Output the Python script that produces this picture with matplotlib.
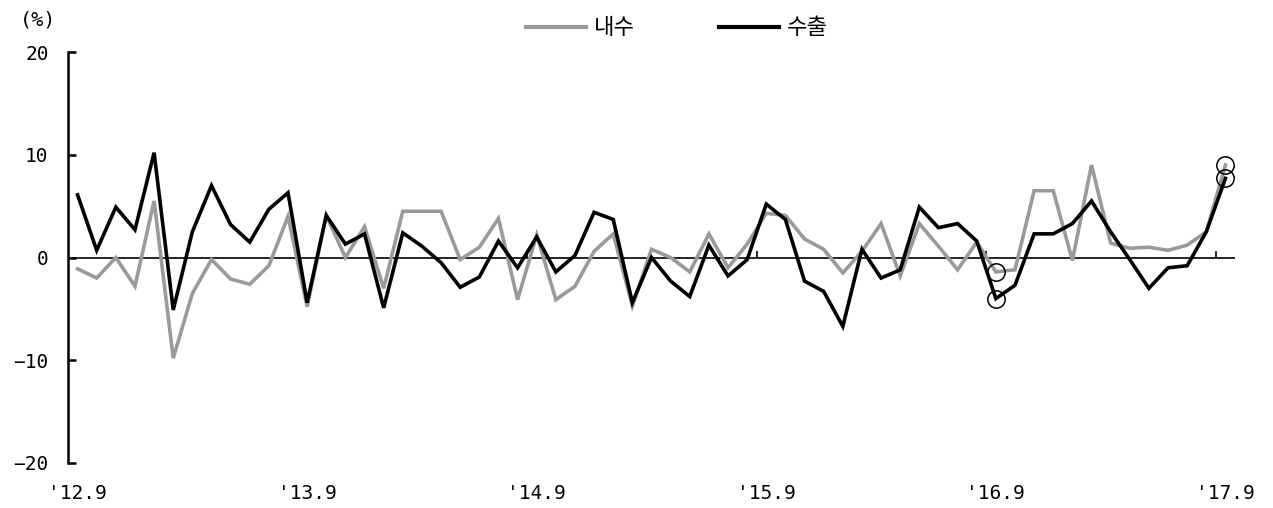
import numpy as np
import matplotlib
matplotlib.use("Agg")
import matplotlib.pyplot as plt

plt.rcParams['font.family'] = ['Noto Sans CJK KR', 'DejaVu Sans']

# ---- data ----
series_names = ["내수", "수출"]
domestic = [-1.1, -2.0, 0.0, -2.8, 5.5, -9.8, -3.5, -0.2, -2.1, -2.6,
            -0.8, 4.0, -4.8, 4.1, 0.0, 3.0, -3.0, 4.5, 4.5, 4.5,
            -0.2, 1.0, 3.8, -4.1, 2.2, -4.1, -2.8, 0.6, 2.3, -4.7,
            0.8, 0.0, -1.4, 2.3, -1.0, 1.3, 4.3, 4.1, 1.8, 0.8,
            -1.5, 0.6, 3.3, -1.8, 3.3, 1.1, -1.2, 1.5, -1.4, -1.2,
            6.5, 6.5, -0.3, 9.0, 1.4, 0.9, 1.0, 0.7, 1.2, 2.5,
            9.0]
export = [6.1, 0.7, 4.9, 2.7, 10.2, -5.1, 2.5, 7.0, 3.2, 1.5,
          4.7, 6.3, -4.4, 4.1, 1.3, 2.3, -4.9, 2.4, 1.1, -0.5,
          -2.9, -1.9, 1.6, -1.0, 2.0, -1.4, 0.2, 4.4, 3.7, -4.4,
          0.0, -2.3, -3.8, 1.2, -1.8, -0.2, 5.2, 3.7, -2.3, -3.3,
          -6.7, 0.8, -2.0, -1.2, 4.9, 2.9, 3.3, 1.6, -4.0, -2.7,
          2.3, 2.3, 3.3, 5.5, 2.5, -0.2, -3.0, -1.0, -0.8, 2.5,
          7.7]
tick_idx = [0, 12, 24, 36, 48, 60]
tick_labels = ["'12.9", "'13.9", "'14.9", "'15.9", "'16.9", "'17.9"]
highlight_idx = [48, 60]
y_ticks = [20, 10, 0, -10, -20]

x = np.arange(len(domestic))

num_font = ['DejaVu Sans Mono', 'DejaVu Sans']

fig = plt.figure(figsize=(12.73, 5.08), dpi=100)
ax = fig.add_axes([68/1273, 45/508, 1167/1273, 411/508])

gray = '#9a9a9a'
ax.plot(x, domestic, color=gray, lw=2.6, label=series_names[0], solid_joinstyle='miter', zorder=3)
ax.plot(x, export, color='black', lw=2.6, label=series_names[1], solid_joinstyle='miter', zorder=4)

# highlight circles
for s in (domestic, export):
    ax.plot(highlight_idx, [s[i] for i in highlight_idx], 'o', mfc='none',
            mec='black', mew=1.1, ms=12.5, zorder=5)

# zero line and category-boundary ticks
ax.axhline(0, color='black', lw=1.2, zorder=2)
bt = [i - 0.5 for i in tick_idx[1:]]
ax.vlines(bt, 0, 0.6, color='black', lw=1.2, zorder=2)

ax.set_xlim(-0.5, len(domestic) - 0.5)
ax.set_ylim(-20, 20)
ax.set_yticks(y_ticks)
ax.set_yticklabels([str(v) if v >= 0 else '\u2212' + str(-v) for v in y_ticks],
                   family=num_font)
ax.set_xticks(tick_idx)
ax.set_xticklabels(tick_labels, family=num_font)

for sp in ('top', 'right', 'bottom'):
    ax.spines[sp].set_visible(False)
ax.spines['left'].set_linewidth(1.8)
ax.tick_params(axis='y', direction='in', length=6, width=1.8, pad=14, labelsize=14)
ax.tick_params(axis='x', length=0, pad=15, labelsize=14)

fig.text(38/1273, 1 - 20/508, '(%)', ha='center', va='center', fontsize=14.5,
         family=num_font)

leg = fig.legend(loc='center', bbox_to_anchor=(677/1273, 1 - 28/508), ncol=2,
                 frameon=False, fontsize=16, handlelength=2.7, handletextpad=0.36,
                 columnspacing=3.8, borderpad=0)
for h in leg.get_lines():
    h.set_linewidth(3)

fig.savefig('out.png', dpi=100)
